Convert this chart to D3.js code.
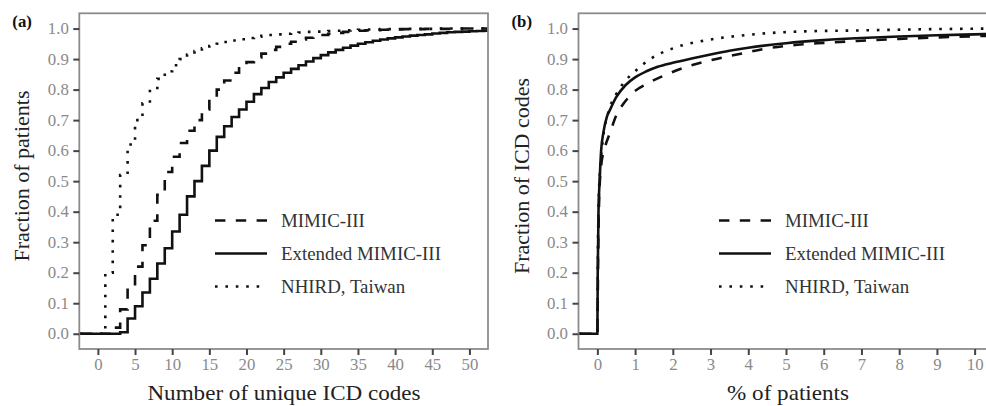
<!DOCTYPE html>
<html>
<head>
<meta charset="utf-8">
<script src="https://cdn.jsdelivr.net/npm/d3@7"></script>
<style>
  body { margin: 0; background: #fff; }
  svg { display: block; font-family: 'Liberation Serif', 'Times New Roman', serif; }
</style>
</head>
<body>
<div id="chart"></div>
<script>
// panel (a): cumulative fraction of patients by number of unique ICD codes
const uniqueCodes = [0, 1, 2, 3, 4, 5, 6, 7, 8, 9, 10, 11, 12, 13, 14, 15, 16, 17, 18, 19, 20,
  21, 22, 23, 24, 25, 26, 27, 28, 29, 30, 31, 32, 33, 34, 35, 36, 37, 38, 39, 40,
  41, 42, 43, 44, 45, 46, 47, 48, 49, 50, 51, 52, 53]
const mimicA = [0, 0, 0.02, 0.08, 0.15, 0.22, 0.29, 0.37, 0.455, 0.53, 0.58, 0.625, 0.665, 0.70, 0.735, 0.77, 0.80, 0.83, 0.855, 0.875, 0.89,
  0.905, 0.918, 0.93, 0.94, 0.95, 0.957, 0.964, 0.97, 0.975, 0.979, 0.983, 0.986, 0.989, 0.991, 0.993, 0.994, 0.995, 0.996, 0.997, 0.997,
  0.998, 0.998, 0.998, 0.999, 0.999, 0.999, 0.999, 0.999, 1, 1, 1, 1, 1]
const extendedA = [0, 0, 0, 0.005, 0.05, 0.09, 0.135, 0.18, 0.23, 0.28, 0.335, 0.39, 0.45, 0.50, 0.55, 0.60, 0.645, 0.68, 0.71, 0.735, 0.76,
  0.785, 0.805, 0.825, 0.84, 0.855, 0.868, 0.88, 0.892, 0.903, 0.913, 0.922, 0.93, 0.937, 0.944, 0.95, 0.955, 0.96, 0.964, 0.968, 0.971,
  0.974, 0.977, 0.979, 0.981, 0.984, 0.986, 0.988, 0.989, 0.990, 0.991, 0.992, 0.993, 0.993]
const nhirdA = [0, 0.20, 0.39, 0.52, 0.62, 0.70, 0.755, 0.80, 0.835, 0.86, 0.88, 0.90, 0.915, 0.926, 0.935, 0.943, 0.95, 0.956, 0.961, 0.965, 0.969,
  0.973, 0.976, 0.979, 0.981, 0.983, 0.985, 0.987, 0.989, 0.990, 0.991, 0.992, 0.993, 0.994, 0.995, 0.996, 0.997, 0.997, 0.998, 0.998, 0.998,
  0.999, 0.999, 0.999, 0.999, 0.999, 1, 1, 1, 1, 1, 1, 1, 1]

// panel (b): cumulative fraction of ICD codes by % of patients
const mimicBx = [0, 0.02, 0.05, 0.1, 0.2, 0.34, 0.5, 0.7, 0.95, 1.3, 1.75, 2.3, 2.9, 3.7, 4.5, 5.3, 6, 7, 8, 9, 10, 10.6]
const mimicBy = [0, 0.25, 0.45, 0.55, 0.61, 0.66, 0.715, 0.755, 0.79, 0.818, 0.845, 0.872, 0.893, 0.915, 0.935, 0.947, 0.953, 0.96, 0.966, 0.971, 0.975, 0.977]
const extendedBx = [0, 0.01, 0.03, 0.06, 0.1, 0.16, 0.25, 0.34, 0.5, 0.75, 1.0, 1.3, 1.6, 2.0, 2.5, 3.0, 3.5, 4, 5, 6, 7, 8, 9, 10, 10.6]
const extendedBy = [0, 0.2, 0.4, 0.5, 0.6, 0.66, 0.71, 0.735, 0.775, 0.815, 0.84, 0.86, 0.875, 0.888, 0.902, 0.915, 0.927, 0.937, 0.952, 0.962, 0.969, 0.974, 0.978, 0.981, 0.983]
const nhirdBx = [0, 0.01, 0.04, 0.08, 0.15, 0.3, 0.5, 0.75, 1.0, 1.4, 2.0, 2.9, 3.8, 5.3, 7, 8.8, 10.6]
const nhirdBy = [0, 0.2, 0.45, 0.55, 0.64, 0.73, 0.785, 0.83, 0.86, 0.9, 0.935, 0.962, 0.977, 0.99, 0.994, 0.998, 1.0]

const seriesNames = ['MIMIC-III', 'Extended MIMIC-III', 'NHIRD, Taiwan']
const yTicks = [0, 0.1, 0.2, 0.3, 0.4, 0.5, 0.6, 0.7, 0.8, 0.9, 1.0]
const xTicksA = [0, 5, 10, 15, 20, 25, 30, 35, 40, 45, 50]
const xTicksB = [0, 1, 2, 3, 4, 5, 6, 7, 8, 9, 10]

const width = 986
const height = 406
const lw = 2.6
const dashes = ['10.4,10.4', null, '2.6,7.8']
const stretch = 'scale(1.05,1)' // the source figure is slightly wider than tall

const svg = d3.select('#chart').append('svg').attr('width', width).attr('height', height)

const y = d3.scaleLinear().domain([-0.05, 1.05]).range([349, 13.3])

function hText(g, x, yy, size, str) {
  return g.append('text').attr('transform', `translate(${x},${yy}) ${stretch}`).attr('font-size', size).text(str)
}

function panel(id, label, x, xTicks, xTitle, yTitle, series, curve, legendX, titleX) {
  const [x0, x1] = x.range()
  const g = svg.append('g')

  g.append('clipPath').attr('id', 'clip' + id)
    .append('rect').attr('x', x0).attr('y', y.range()[1]).attr('width', x1 - x0).attr('height', y.range()[0] - y.range()[1])

  // pad each curve at the left edge like stat_ecdf does
  const padded = series.map((s) => [[x.domain()[0], 0], ...s])
  const line = d3.line().x((d) => x(d[0])).y((d) => y(d[1])).curve(curve)
  g.append('g').attr('clip-path', `url(#clip${id})`)
    .selectAll('path')
    .data(padded)
    .join('path')
    .attr('fill', 'none')
    .attr('stroke', '#111')
    .attr('stroke-width', lw)
    .attr('stroke-dasharray', (d, i) => dashes[i])
    .attr('d', line)

  // panel border
  g.append('rect').attr('x', x0).attr('y', y.range()[1]).attr('width', x1 - x0).attr('height', y.range()[0] - y.range()[1])
    .attr('fill', 'none').attr('stroke', '#8c8c8c').attr('stroke-width', 1.8)

  const yAxis = g.append('g').attr('transform', `translate(${x0},0)`)
    .call(d3.axisLeft(y).tickValues(yTicks).tickFormat(d3.format('.1f')).tickSize(6).tickPadding(4))
  const xAxis = g.append('g').attr('transform', `translate(0,${y.range()[0]})`)
    .call(d3.axisBottom(x).tickValues(xTicks).tickFormat(d3.format('d')).tickSize(6).tickPadding(4))
  for (const ax of [xAxis, yAxis]) {
    ax.select('.domain').remove()
    ax.selectAll('line').attr('stroke', '#444').attr('stroke-width', 2)
    ax.selectAll('text').attr('fill', '#8a8a8a').attr('font-size', 16).attr('font-family', 'Liberation Serif, serif')
      .attr('transform', stretch)
  }

  hText(g, titleX, 400, 22, xTitle).attr('text-anchor', 'middle').attr('fill', '#222')
  g.append('text').attr('transform', `translate(${x0 - 50},176) rotate(-90)`)
    .attr('text-anchor', 'middle').attr('font-size', 22).attr('fill', '#222').text(yTitle)
  hText(g, x0 - 67, 27, 16, label).attr('font-weight', 'bold').attr('fill', '#111')

  // legend
  const leg = g.append('g').selectAll('g').data(seriesNames).join('g')
    .attr('transform', (d, i) => `translate(${legendX},${220.5 + i * 33})`)
  leg.append('line').attr('x1', 0).attr('x2', 52).attr('stroke', '#111').attr('stroke-width', lw)
    .attr('stroke-dasharray', (d, i) => dashes[i])
  leg.append('text').attr('transform', `translate(66,0) ${stretch}`).attr('dy', '0.35em').attr('font-size', 18)
    .attr('fill', '#333').text((d) => d)
}

const xA = d3.scaleLinear().domain([-2.5, 52.5]).range([79.3, 488])
const seriesA = [mimicA, extendedA, nhirdA].map((v) => uniqueCodes.map((c, i) => [c, v[i]]))
panel('a', '(a)', xA, xTicksA, 'Number of unique ICD codes', 'Fraction of patients', seriesA, d3.curveStepAfter, 215, 284)

const xB = d3.scaleLinear().domain([-0.5, 10.5]).range([578.5, 993.5])
const seriesB = [
  mimicBx.map((v, i) => [v, mimicBy[i]]),
  extendedBx.map((v, i) => [v, extendedBy[i]]),
  nhirdBx.map((v, i) => [v, nhirdBy[i]])
]
panel('b', '(b)', xB, xTicksB, '% of patients', 'Fraction of ICD codes', seriesB, d3.curveMonotoneX, 719, 788)
</script>
</body>
</html>
